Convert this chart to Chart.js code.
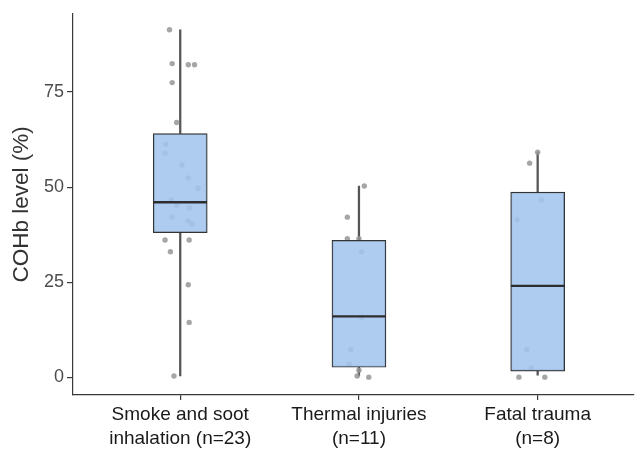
<!DOCTYPE html>
<html>
<head>
<meta charset="utf-8">
<script src="https://cdn.jsdelivr.net/npm/chart.js@4/dist/chart.umd.min.js"></script>
<style>
  html, body { margin: 0; background: #fff; }
</style>
</head>
<body>
<canvas id="chart" width="638" height="450"></canvas>
<script>
// groups and box statistics (COHb %)
const groupLabels = [['Smoke and soot', 'inhalation (n=23)'], ['Thermal injuries', '(n=11)'], ['Fatal trauma', '(n=8)']];
const groupPos = [1, 2, 3];
const lowWhisker = [0.3, 0.3, 0.5];
const q1 = [38, 2.6, 1.6];
const median = [46, 16, 24];
const q3 = [64.1, 36, 48.7];
const highWhisker = [91.4, 50.3, 59.2];

// raw observations with their jitter offset (category units)
const smokeVals = [91.4, 82.5, 82.2, 82.2, 77.5, 67, 61.3, 58.9, 55.8, 52.4, 49.7, 46.6, 45.2, 44.5, 42.1, 41.1, 40.3, 36.1, 36.1, 33, 24.3, 14.4, 0.3];
const smokeJitter = [-0.06, -0.045, 0.045, 0.08, -0.045, -0.02, -0.08, -0.085, 0.01, 0.045, 0.1, -0.05, -0.02, 0.05, -0.045, 0.045, 0.065, -0.085, 0.05, -0.055, 0.045, 0.05, -0.035];
const thermalVals = [50.3, 42.1, 36.4, 36.4, 33, 15.7, 7.3, 3.4, 1.8, 0.3, 0];
const thermalJitter = [0.03, -0.065, -0.065, 0.0, 0.015, 0.015, -0.045, -0.055, 0.0, -0.01, 0.055];
const traumaVals = [59.2, 56.3, 46.6, 41.4, 7.3, 2.4, 0, 0];
const traumaJitter = [0.0, -0.045, 0.02, -0.115, -0.06, -0.035, -0.105, 0.04];

const yTicks = [0, 25, 50, 75];

function jitterPoints(pos, vals, jit) {
    return vals.map((v, i) => ({ x: pos + jit[i], y: v }));
}

const points = [].concat(
    jitterPoints(1, smokeVals, smokeJitter),
    jitterPoints(2, thermalVals, thermalJitter),
    jitterPoints(3, traumaVals, traumaJitter)
);

// whiskers: lower (min..Q1) and upper (Q3..max) segments
const whiskers = [];
groupPos.forEach((p, i) => {
    whiskers.push({ x: p, y: [lowWhisker[i], q1[i]] });
    whiskers.push({ x: p, y: [q3[i], highWhisker[i]] });
});

const axisColor = '#3a3a3a';
const fontFamily = 'Arial, Liberation Sans, sans-serif';

// median lines drawn through the chart scales
const medianPlugin = {
    id: 'medianLines',
    afterDatasetsDraw(chart) {
        const { ctx, scales: { x, y } } = chart;
        ctx.save();
        ctx.strokeStyle = '#2e2e2e';
        ctx.lineWidth = 2.4;
        groupPos.forEach((p, i) => {
            const py = y.getPixelForValue(median[i]);
            ctx.beginPath();
            ctx.moveTo(x.getPixelForValue(p - 0.15), py);
            ctx.lineTo(x.getPixelForValue(p + 0.15), py);
            ctx.stroke();
        });
        ctx.restore();
    }
};

new Chart(document.getElementById('chart'), {
    type: 'bar',
    data: {
        datasets: [
            {
                label: 'box',
                order: 0,
                grouped: false,
                data: groupPos.map((p, i) => ({ x: p, y: [q1[i], q3[i]] })),
                backgroundColor: 'rgba(163,196,238,0.88)',
                borderColor: '#333',
                borderWidth: 1.2,
                borderSkipped: false,
                barThickness: 54
            },
            {
                type: 'scatter',
                label: 'obs',
                order: 1,
                data: points,
                backgroundColor: 'rgba(150,150,150,0.85)',
                borderWidth: 0,
                pointRadius: 2.7
            },
            {
                label: 'whisker',
                order: 2,
                grouped: false,
                data: whiskers,
                backgroundColor: '#555',
                borderWidth: 0,
                barThickness: 1.6
            }
        ]
    },
    options: {
        responsive: false,
        animation: false,
        layout: { padding: { top: 12, right: 0, left: 0, bottom: 0 } },
        plugins: { legend: { display: false }, tooltip: { enabled: false } },
        scales: {
            x: {
                type: 'linear',
                offset: false,
                min: 0.4,
                max: 3.539,
                afterBuildTicks: (axis) => { axis.ticks = groupPos.map(v => ({ value: v })); },
                afterFit: (axis) => { axis.height = 55; },
                ticks: {
                    autoSkip: false,
                    maxRotation: 0,
                    padding: 3,
                    color: '#1a1a1a',
                    font: { family: fontFamily, size: 19, lineHeight: 1.25 },
                    callback: (v) => groupLabels[groupPos.indexOf(v)]
                },
                grid: { offset: false, drawOnChartArea: false, drawTicks: true, tickLength: 5, color: axisColor, lineWidth: 1.2 },
                border: { color: axisColor, width: 1.2 }
            },
            y: {
                min: -4.7,
                max: 95.6,
                afterBuildTicks: (axis) => { axis.ticks = yTicks.map(v => ({ value: v })); },
                afterFit: (axis) => { axis.width = 73; },
                ticks: {
                    padding: 3,
                    color: '#4d4d4d',
                    font: { family: fontFamily, size: 18 }
                },
                title: {
                    display: true,
                    text: 'COHb level (%)',
                    color: '#333',
                    padding: { top: 8, bottom: 0 },
                    font: { family: fontFamily, size: 22.5 }
                },
                grid: { drawOnChartArea: false, drawTicks: true, tickLength: 6, color: axisColor, lineWidth: 1.2 },
                border: { color: axisColor, width: 1.2 }
            }
        }
    },
    plugins: [medianPlugin]
});
</script>
</body>
</html>
